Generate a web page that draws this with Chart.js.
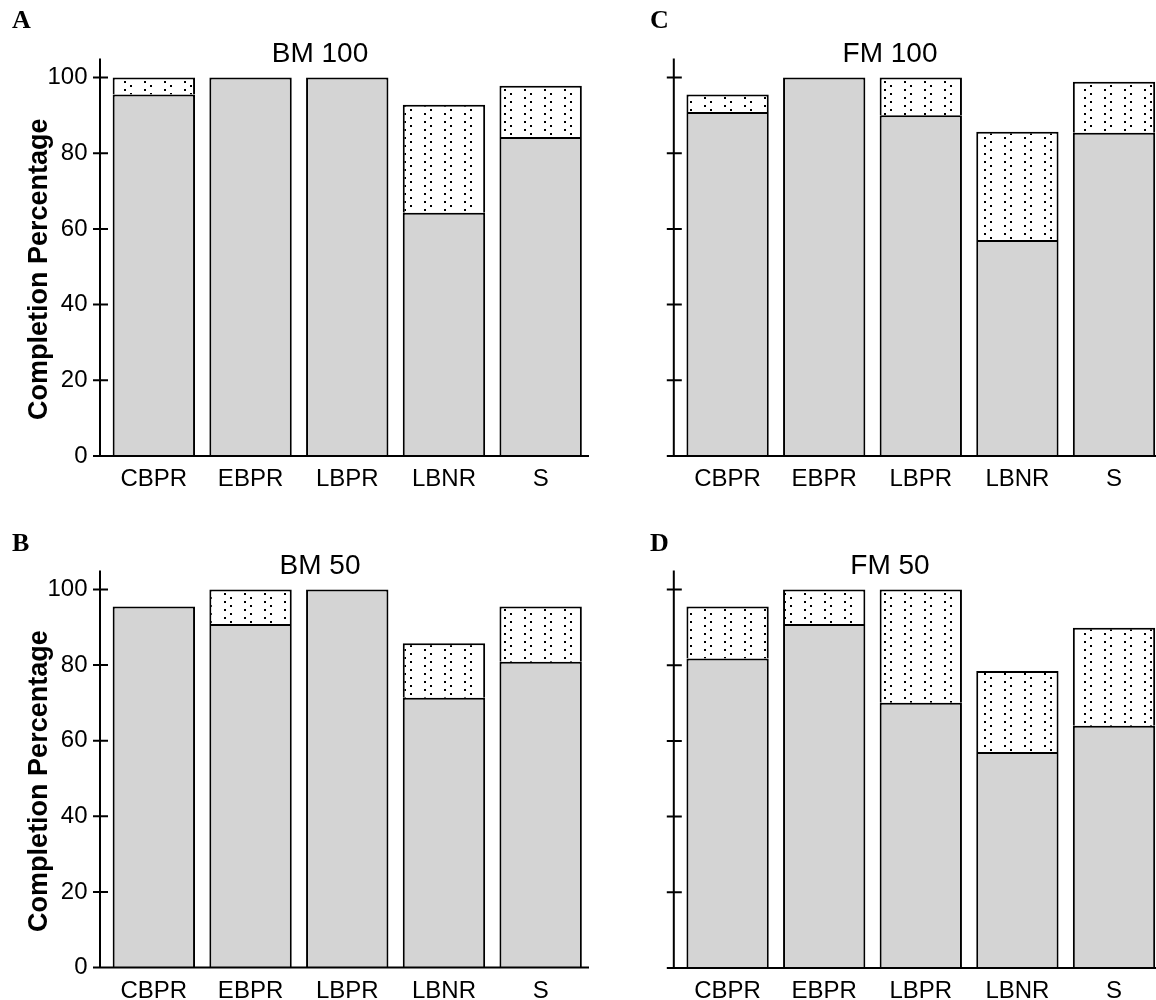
<!DOCTYPE html>
<html lang="en">
<head>
<meta charset="UTF-8">
<title>Completion Percentage</title>
<style>
  html, body { margin: 0; padding: 0; background: #fff; overflow: hidden; }
  body { width: 1156px; height: 1000px; position: relative; }
  .panel { position: absolute; }
  canvas { display: block; }
</style>
</head>
<body>
<div class="panel" style="left:0;top:0"><canvas id="chartA" width="640" height="512"></canvas></div>
<div class="panel" style="left:0;top:512px"><canvas id="chartB" width="640" height="488"></canvas></div>
<div class="panel" style="left:600px;top:0"><canvas id="chartC" width="580" height="512"></canvas></div>
<div class="panel" style="left:600px;top:512px"><canvas id="chartD" width="580" height="488"></canvas></div>

<script src="https://cdn.jsdelivr.net/npm/chart.js@4.4.1/dist/chart.umd.min.js"></script>
<script>
const categories = ['CBPR', 'EBPR', 'LBPR', 'LBNR', 'S'];
const yTicks = [0, 20, 40, 60, 80, 100];

// solid grey part / dotted part stacked on top
const bm100Full = [95.5, 100, 100, 64.3, 84.3];
const bm100Part = [4.5, 0, 0, 28.5, 13.5];
const fm100Full = [90.9, 100, 90.0, 57.1, 85.4];
const fm100Part = [4.6, 0, 10.0, 28.6, 13.5];
const bm50Full = [95.5, 90.9, 100, 71.4, 80.9];
const bm50Part = [0, 9.1, 0, 14.4, 14.6];
const fm50Full = [81.8, 90.9, 70.1, 57.1, 64.0];
const fm50Part = [13.7, 9.1, 29.9, 21.4, 25.9];

const FONT = "'Liberation Sans', Arial, sans-serif";
const GREY = '#d4d4d4';

function dotPattern() {
    const c = document.createElement('canvas');
    c.width = 20; c.height = 8;
    const g = c.getContext('2d');
    g.fillStyle = '#fff';
    g.fillRect(0, 0, 20, 8);
    g.fillStyle = '#000';
    g.fillRect(4, 1, 2, 2);
    g.fillRect(10, 5, 2, 2);
    return g.createPattern(c, 'repeat');
}
const dots = dotPattern();

// axis lines, crossing ticks, titles and panel letters
const decor = {
    id: 'decor',
    afterDraw(chart, args, o) {
        const ctx = chart.ctx;
        const area = chart.chartArea;
        const y = chart.scales.y;
        const ax = area.left - 5.5;
        ctx.save();
        ctx.strokeStyle = '#000';
        ctx.lineWidth = 2;
        ctx.beginPath();
        ctx.moveTo(ax, area.top);
        ctx.lineTo(ax, area.bottom);
        yTicks.forEach(v => {
            const py = y.getPixelForValue(v);
            ctx.moveTo(ax - 7, py);
            ctx.lineTo(ax + 8, py);
        });
        ctx.moveTo(ax - 7, area.bottom);
        ctx.lineTo(area.right, area.bottom);
        ctx.stroke();

        ctx.fillStyle = '#000';
        ctx.textAlign = 'center';
        ctx.textBaseline = 'alphabetic';
        ctx.font = '28px ' + FONT;
        ctx.fillText(o.title, o.titleX, 62);

        ctx.textAlign = 'left';
        ctx.font = "bold 26px 'Liberation Serif', 'Times New Roman', serif";
        ctx.fillText(o.letter, o.letterX, o.letterY);

        if (o.yTitle) {
            ctx.translate(40, (area.top + area.bottom) / 2 + 12);
            ctx.rotate(-Math.PI / 2);
            ctx.textAlign = 'center';
            ctx.textBaseline = 'middle';
            ctx.font = 'bold 27px ' + FONT;
            ctx.fillText('Completion Percentage', 0, 0);
        }
        ctx.restore();
    }
};

function drawPanel(id, full, part, d) {
    const canvas = document.getElementById(id);
    const seg = {
        borderColor: '#000',
        borderWidth: { top: 2, left: 2, right: 2, bottom: 0 },
        borderSkipped: false,
        categoryPercentage: 1,
        barPercentage: 0.852
    };
    new Chart(canvas, {
        type: 'bar',
        data: {
            labels: categories,
            datasets: [
                Object.assign({ data: full, backgroundColor: GREY }, seg),
                Object.assign({ data: part, backgroundColor: dots }, seg)
            ]
        },
        options: {
            responsive: false,
            animation: false,
            events: [],
            layout: { padding: { top: 58.6, right: canvas.width - d.plotRight, left: 0, bottom: 0 } },
            plugins: {
                legend: { display: false },
                tooltip: { enabled: false },
                decor: d
            },
            scales: {
                x: {
                    stacked: true,
                    grid: { display: false },
                    border: { display: false },
                    ticks: { color: '#000', font: { size: 24, family: FONT }, padding: 1, maxRotation: 0, autoSkip: false },
                    afterFit: s => { s.height = canvas.height - 456; }
                },
                y: {
                    stacked: true,
                    min: 0,
                    max: 105,
                    grid: { display: false, drawTicks: false },
                    border: { display: false },
                    ticks: { display: d.labels, color: '#000', font: { size: 24, family: FONT }, padding: 18 },
                    afterBuildTicks: s => { s.ticks = yTicks.map(v => ({ value: v })); },
                    afterFit: s => { s.width = d.plotLeft; }
                }
            }
        },
        plugins: [decor]
    });
}

drawPanel('chartA', bm100Full, bm100Part, { title: 'BM 100', titleX: 320, letter: 'A', letterX: 12, letterY: 28, yTitle: true, labels: true, plotLeft: 105.5, plotRight: 589 });
drawPanel('chartB', bm50Full, bm50Part, { title: 'BM 50', titleX: 320, letter: 'B', letterX: 12, letterY: 39, yTitle: true, labels: true, plotLeft: 105.5, plotRight: 589 });
drawPanel('chartC', fm100Full, fm100Part, { title: 'FM 100', titleX: 290, letter: 'C', letterX: 50, letterY: 28, yTitle: false, labels: false, plotLeft: 79.3, plotRight: 562.3 });
drawPanel('chartD', fm50Full, fm50Part, { title: 'FM 50', titleX: 290, letter: 'D', letterX: 50, letterY: 39, yTitle: false, labels: false, plotLeft: 79.3, plotRight: 562.3 });
</script>
</body>
</html>
